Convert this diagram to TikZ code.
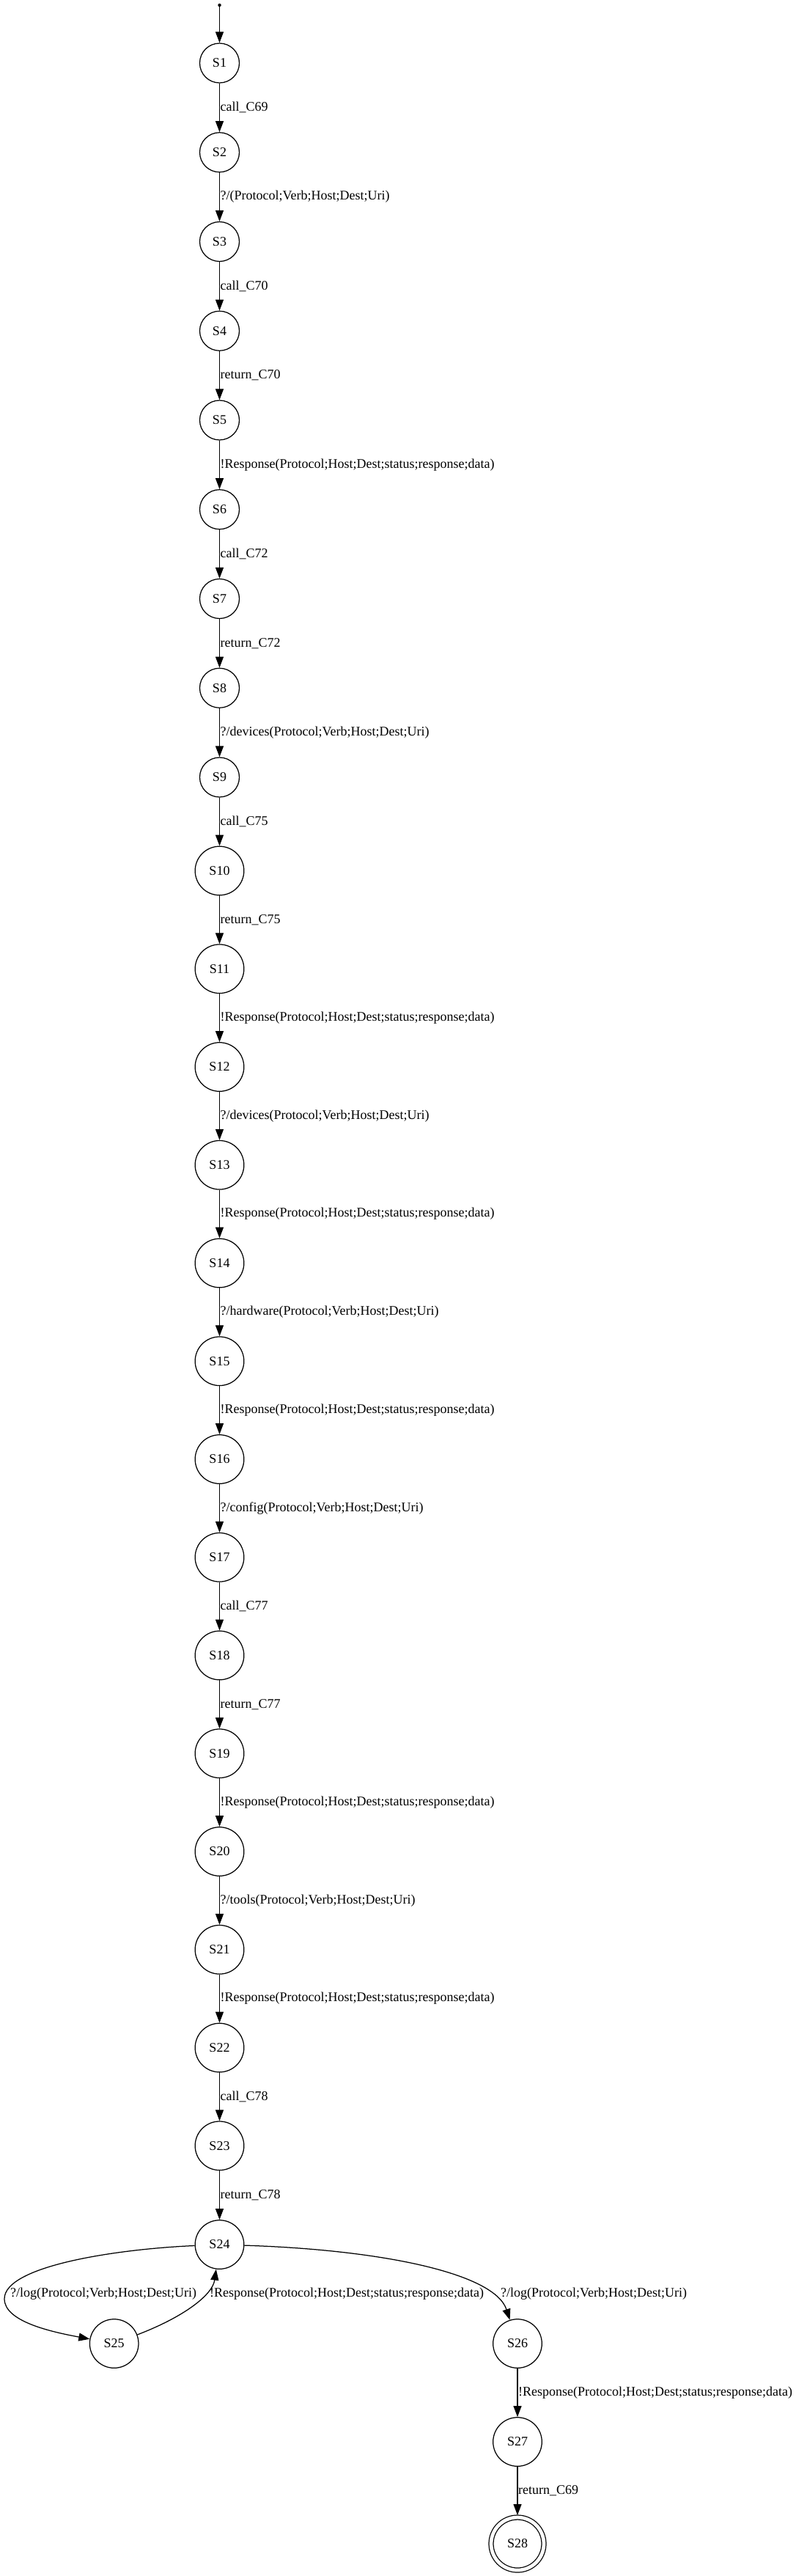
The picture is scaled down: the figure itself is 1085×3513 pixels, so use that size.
\documentclass[tikz,border=0pt]{standalone}
\usepackage{fontspec}
\setmainfont{Liberation Serif}
\usetikzlibrary{arrows.meta}
\begin{document}
\begin{tikzpicture}[x=1pt,y=-1pt,
  st/.style={circle,draw,line width=1.25pt,inner sep=0pt,minimum size=54pt,font=\fontsize{18}{20}\selectfont},
  stb/.style={st,minimum size=66.6pt},
  tr/.style={line width=1.25pt,-{Triangle[length=15pt,width=11pt]}},
  lb/.style={anchor=west,inner sep=0pt,font=\fontsize{18}{20}\selectfont}]
\useasboundingbox (0,0) rectangle (1085,3513);
\node[circle,fill,inner sep=0pt,minimum size=4.5pt] (init) at (299.5,7) {};
\node[st] (S1) at (299.5,86) {S1};
\node[st] (S2) at (299.5,207.75) {S2};
\node[st] (S3) at (299.5,329.5) {S3};
\node[st] (S4) at (299.5,451.25) {S4};
\node[st] (S5) at (299.5,573) {S5};
\node[st] (S6) at (299.5,694.75) {S6};
\node[st] (S7) at (299.5,816.5) {S7};
\node[st] (S8) at (299.5,938.25) {S8};
\node[st] (S9) at (299.5,1060) {S9};
\node[stb] (S10) at (299.5,1187.5) {S10};
\node[stb] (S11) at (299.5,1321.25) {S11};
\node[stb] (S12) at (299.5,1455) {S12};
\node[stb] (S13) at (299.5,1588.75) {S13};
\node[stb] (S14) at (299.5,1722.5) {S14};
\node[stb] (S15) at (299.5,1856.25) {S15};
\node[stb] (S16) at (299.5,1990) {S16};
\node[stb] (S17) at (299.5,2123.75) {S17};
\node[stb] (S18) at (299.5,2257.5) {S18};
\node[stb] (S19) at (299.5,2391.25) {S19};
\node[stb] (S20) at (299.5,2525) {S20};
\node[stb] (S21) at (299.5,2658.75) {S21};
\node[stb] (S22) at (299.5,2792.5) {S22};
\node[stb] (S23) at (299.5,2926.25) {S23};
\node[stb] (S24) at (299.5,3061) {S24};
\node[stb] (S25) at (155.7,3196) {S25};
\node[stb] (S26) at (706,3196) {S26};
\node[stb] (S27) at (706,3330) {S27};
\node[st,minimum size=72pt,double,double distance=4.75pt,outer sep=3pt] (S28) at (706,3469) {S28};
\draw[tr] (init) -- (S1);
\foreach \a/\b/\t in {
  1/2/{call\_C69},
  2/3/{?/(Protocol;Verb;Host;Dest;Uri)},
  3/4/{call\_C70},
  4/5/{return\_C70},
  5/6/{!Response(Protocol;Host;Dest;status;response;data)},
  6/7/{call\_C72},
  7/8/{return\_C72},
  8/9/{?/devices(Protocol;Verb;Host;Dest;Uri)},
  9/10/{call\_C75},
  10/11/{return\_C75},
  11/12/{!Response(Protocol;Host;Dest;status;response;data)},
  12/13/{?/devices(Protocol;Verb;Host;Dest;Uri)},
  13/14/{!Response(Protocol;Host;Dest;status;response;data)},
  14/15/{?/hardware(Protocol;Verb;Host;Dest;Uri)},
  15/16/{!Response(Protocol;Host;Dest;status;response;data)},
  16/17/{?/config(Protocol;Verb;Host;Dest;Uri)},
  17/18/{call\_C77},
  18/19/{return\_C77},
  19/20/{!Response(Protocol;Host;Dest;status;response;data)},
  20/21/{?/tools(Protocol;Verb;Host;Dest;Uri)},
  21/22/{!Response(Protocol;Host;Dest;status;response;data)},
  22/23/{call\_C78},
  23/24/{return\_C78},
  26/27/{!Response(Protocol;Host;Dest;status;response;data)},
  27/28/{return\_C69}}
  {\draw[tr] (S\a) -- node[lb,xshift=0.5pt] (l\a) {\t} (S\b);}
\draw[tr] (S24) .. controls (160,3067) and (6,3090) .. (6,3135)
  .. controls (6,3166) and (70,3180) .. (S25);
\draw[tr] (S25) .. controls (250,3160) and (290,3130) .. (S24);
\draw[tr] (S24) .. controls (520,3068) and (675,3100) .. (S26);
\node[lb] (l24a) at (14,3128) {?/log(Protocol;Verb;Host;Dest;Uri)};
\node[lb] (l25) at (286,3128) {!Response(Protocol;Host;Dest;status;response;data)};
\node[lb] (l24b) at (683,3128) {?/log(Protocol;Verb;Host;Dest;Uri)};
\end{tikzpicture}
\end{document}
